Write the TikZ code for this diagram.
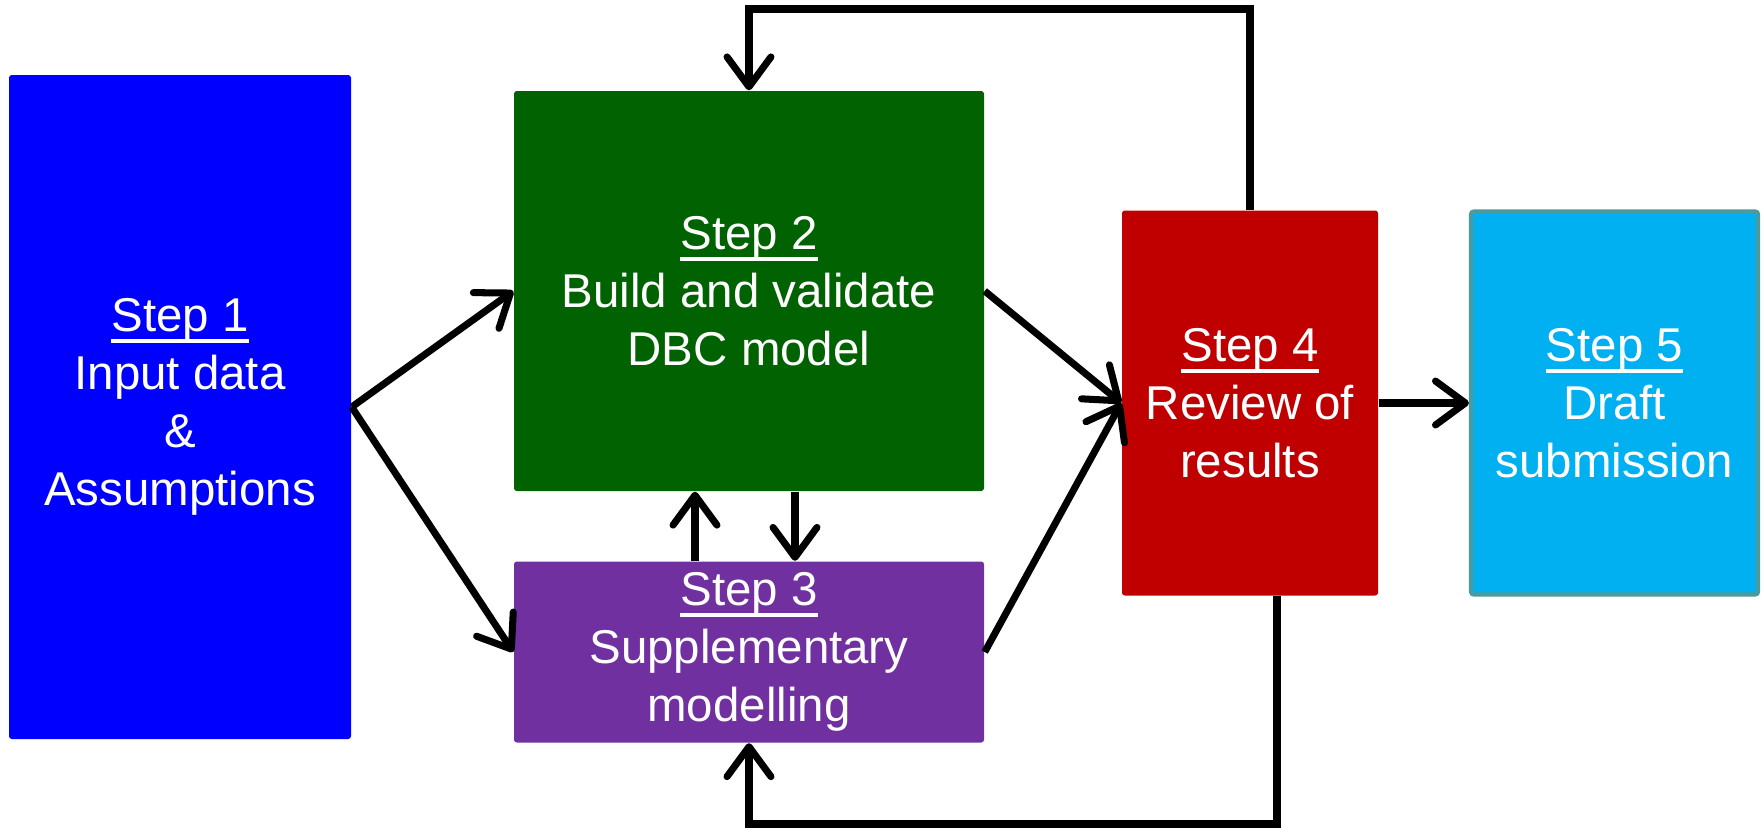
\documentclass[tikz,border=0pt]{standalone}
\usepackage{fontspec}
\setmainfont{Liberation Sans}
\usetikzlibrary{arrows.meta}
\definecolor{inputblue}{RGB}{0,0,255}
\definecolor{dbcgreen}{RGB}{0,98,0}
\definecolor{supppurple}{RGB}{112,48,160}
\definecolor{reviewred}{RGB}{192,0,0}
\definecolor{draftcyan}{RGB}{0,176,240}
\definecolor{draftedge}{RGB}{74,154,160}
% underlined step title with a heavier rule
\newcommand{\steptitle}[1]{\setbox0\hbox{#1}%
  \rlap{\raisebox{-3.2pt}{\rule{\wd0}{1.1pt}}}\box0}
\tikzset{
  stepbox/.style={rectangle,rounded corners=0.8pt,text=white,align=center,
    inner sep=0pt,font=\fontsize{13.5}{16.5}\selectfont},
  flow/.style={-{Straight Barb[length=8.5pt,width=12.5pt,round]},line width=2pt,
    line join=round},
  loopline/.style={flow,line join=miter}
}

\begin{document}
\begin{tikzpicture}

\useasboundingbox (0,0) rectangle (17.63,8.30);

% The five steps
\node[stepbox,fill=inputblue,minimum width=3.42cm,minimum height=6.64cm]
  (input) at (1.80,4.23) {\steptitle{Step 1}\\Input data\\\&\\Assumptions};
\node[stepbox,fill=dbcgreen,minimum width=4.70cm,minimum height=4.00cm]
  (dbc) at (7.49,5.39) {\steptitle{Step 2}\\Build and validate\\DBC model};
\node[stepbox,fill=supppurple,minimum width=4.70cm,minimum height=1.81cm]
  (supp) at (7.49,1.78) {\steptitle{Step 3}\\Supplementary\\modelling};
\node[stepbox,fill=reviewred,minimum width=2.56cm,minimum height=3.85cm]
  (review) at (12.50,4.27) {\steptitle{Step 4}\\Review of\\results};
\node[stepbox,fill=draftcyan,draw=draftedge,line width=1.2pt,
  minimum width=2.87cm,minimum height=3.83cm]
  (draft) at (16.145,4.27) {\steptitle{Step 5}\\Draft\\submission};

% Rails for the two feedback loops
\coordinate (toprail) at (0,8.21);
\coordinate (botrail) at (0,0.06);

% Forward flow
\draw[flow] (input.east) -- (dbc.west);
\draw[flow] (input.east) -- (supp.west);
\draw[flow] (dbc.east) -- (review.west);
\draw[flow] (supp.east) -- (review.west);
\draw[flow] (review.east) -- (draft.west);

% Step 2 and step 3 feed each other
\draw[flow] ([xshift=-5.4mm]supp.north) -- ([xshift=-5.4mm]dbc.south);
\draw[flow] ([xshift=4.6mm]dbc.south) -- ([xshift=4.6mm]supp.north);

% Feedback from the review
\draw[loopline] (review.north) -- (review.north |- toprail) -| (dbc.north);
\draw[loopline] ([xshift=2.7mm]review.south)
  -- ([xshift=2.7mm]review.south |- botrail) -| (supp.south);

\end{tikzpicture}
\end{document}
